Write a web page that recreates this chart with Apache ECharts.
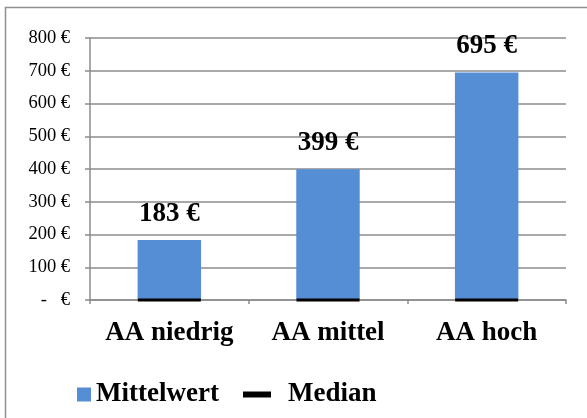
<!DOCTYPE html>
<html>
<head>
<meta charset="utf-8">
<script src="https://cdn.jsdelivr.net/npm/echarts@6/dist/echarts.min.js"></script>
<style>
  html, body { margin: 0; padding: 0; background: #fff; }
  #chart { width: 587px; height: 418px; }
</style>
</head>
<body>
<div id="chart"></div>
<script>
// Kategorien und Werte
const categories = ['AA niedrig', 'AA mittel', 'AA hoch'];
const mittelwert = [183, 399, 695];
const median = [0, 0, 0];
const yTicks = [0, 100, 200, 300, 400, 500, 600, 700, 800];

const serif = '"Liberation Serif", "Times New Roman", serif';
const blue = '#558ed5';
const bold = { fontFamily: serif, fontWeight: 'bold', fontSize: 27, color: '#000' };

const chart = echarts.init(document.getElementById('chart'));

chart.setOption({
  backgroundColor: '#fff',
  animation: false,
  graphic: [{
    type: 'rect',
    shape: { x: 5.5, y: 7.5, width: 640, height: 500 },
    style: { fill: 'none', stroke: '#8f8f8f', lineWidth: 1.5 },
    silent: true
  }],
  grid: { left: 90, right: 21, top: 38, bottom: 118 },
  legend: [{
    data: ['Mittelwert'],
    left: 72, top: 376,
    icon: 'rect', itemWidth: 14, itemHeight: 14, itemGap: 5,
    textStyle: bold
  }, {
    data: ['Median'],
    left: 238, top: 376,
    icon: 'rect', itemWidth: 28, itemHeight: 6, itemGap: 5,
    textStyle: Object.assign({}, bold, { padding: [0, 0, 0, 12] })
  }],
  xAxis: {
    type: 'category',
    data: categories,
    axisLine: { lineStyle: { color: '#8c8c8c', width: 1.5 } },
    axisTick: { show: true, length: 4, lineStyle: { color: '#8c8c8c', width: 1.5 } },
    axisLabel: Object.assign({ margin: 20, interval: 0, hideOverlap: false }, bold)
  },
  yAxis: {
    type: 'value',
    min: yTicks[0],
    max: yTicks[yTicks.length - 1],
    interval: 100,
    axisLine: { show: true, lineStyle: { color: '#8c8c8c', width: 1.5 } },
    axisTick: { show: true, length: 5, lineStyle: { color: '#8c8c8c', width: 1.5 } },
    splitLine: { lineStyle: { color: '#8c8c8c', width: 1.5 } },
    axisLabel: {
      fontFamily: serif, fontSize: 18.5, color: '#000', margin: 20,
      formatter: v => v === 0 ? '-   €' : v + ' €'
    }
  },
  series: [{
    name: 'Mittelwert',
    type: 'bar',
    data: mittelwert,
    barWidth: '40%',
    itemStyle: { color: blue },
    label: Object.assign({
      show: true, position: 'top', distance: 13,
      formatter: p => p.value + ' €'
    }, bold)
  }, {
    name: 'Median',
    type: 'scatter',
    data: median,
    symbol: 'rect',
    symbolSize: [63, 3],
    itemStyle: { color: '#000', opacity: 1 },
    z: 5
  }]
});
</script>
</body>
</html>
